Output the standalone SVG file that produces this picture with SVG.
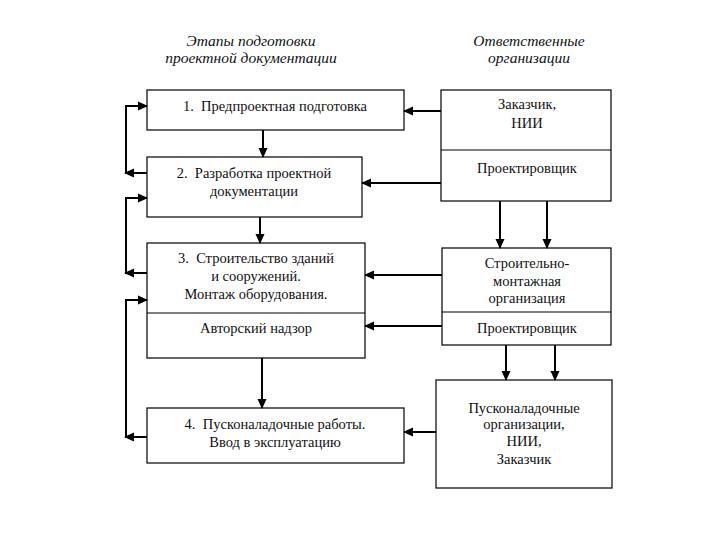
<svg xmlns="http://www.w3.org/2000/svg" width="720" height="540" viewBox="0 0 720 540">
<style>
text{font-family:"Liberation Serif","DejaVu Serif","Times New Roman",serif;font-size:14.5px;fill:#111;text-anchor:middle}
.h{font-style:italic;font-size:15.5px}
.box{fill:#fff;stroke:#000;stroke-width:1.2}
.div{stroke:#000;stroke-width:1.2}
.c{fill:none;stroke:#000;stroke-width:2}
</style>
<defs>
<marker id="a" markerWidth="10" markerHeight="10" refX="9" refY="5" orient="auto" markerUnits="userSpaceOnUse">
<path d="M0,0.5 L10,5 L0,9.5 Z" fill="#000"/>
</marker>
</defs>
<rect width="720" height="540" fill="#fff"/>
<g id="headers">
<text class="h" x="251" y="46">Этапы подготовки</text>
<text class="h" x="251" y="63">проектной документации</text>
<text class="h" x="529" y="46">Ответственные</text>
<text class="h" x="529" y="63">организации</text>
</g>
<g id="stage1">
<rect class="box" x="147" y="90" width="257" height="40"/>
<text x="275" y="111" xml:space="preserve">1.  Предпроектная подготовка</text>
</g>
<g id="stage2">
<rect class="box" x="147" y="157" width="215" height="60"/>
<text x="254" y="178" xml:space="preserve">2.  Разработка проектной</text>
<text x="254" y="196">документации</text>
</g>
<g id="stage3">
<rect class="box" x="147" y="243" width="218" height="115"/>
<line class="div" x1="147" y1="313" x2="365" y2="313"/>
<text x="256" y="263" xml:space="preserve">3.  Строительство зданий</text>
<text x="256" y="281">и сооружений.</text>
<text x="256" y="299">Монтаж оборудования.</text>
<text x="256" y="333">Авторский надзор</text>
</g>
<g id="stage4">
<rect class="box" x="147" y="408" width="257" height="55"/>
<text x="275" y="429" xml:space="preserve">4.  Пусконаладочные работы.</text>
<text x="275" y="447">Ввод в эксплуатацию</text>
</g>
<g id="orgA">
<rect class="box" x="441" y="90" width="170" height="111"/>
<line class="div" x1="441" y1="150" x2="611" y2="150"/>
<text x="527" y="109">Заказчик,</text>
<text x="527" y="128">НИИ</text>
<text x="527" y="173">Проектировщик</text>
</g>
<g id="orgB">
<rect class="box" x="442" y="248" width="169" height="97"/>
<line class="div" x1="442" y1="312" x2="611" y2="312"/>
<text x="527" y="268">Строительно-</text>
<text x="527" y="286">монтажная</text>
<text x="527" y="303">организация</text>
<text x="527" y="333">Проектировщик</text>
</g>
<g id="orgC">
<rect class="box" x="436" y="380" width="176" height="108"/>
<text x="524" y="413">Пусконаладочные</text>
<text x="524" y="429">организации,</text>
<text x="524" y="446">НИИ,</text>
<text x="524" y="464">Заказчик</text>
</g>
<g id="connectors">
<path class="c" d="M263,130 V157" marker-end="url(#a)"/>
<path class="c" d="M260,217 V243" marker-end="url(#a)"/>
<path class="c" d="M262,358 V408" marker-end="url(#a)"/>
<path class="c" d="M441,111 H404" marker-end="url(#a)"/>
<path class="c" d="M441,183 H362" marker-end="url(#a)"/>
<path class="c" d="M442,275 H365" marker-end="url(#a)"/>
<path class="c" d="M442,326 H365" marker-end="url(#a)"/>
<path class="c" d="M436,432 H404" marker-end="url(#a)"/>
<path class="c" d="M500,201 V248" marker-end="url(#a)"/>
<path class="c" d="M547,201 V248" marker-end="url(#a)"/>
<path class="c" d="M506,345 V380" marker-end="url(#a)"/>
<path class="c" d="M555,345 V380" marker-end="url(#a)"/>
<path class="c" d="M147,173 H125" marker-end="url(#a)"/>
<path class="c" d="M126,174 V106 H147" marker-end="url(#a)"/>
<path class="c" d="M147,273 H125" marker-end="url(#a)"/>
<path class="c" d="M126,274 V198 H147" marker-end="url(#a)"/>
<path class="c" d="M147,437 H125" marker-end="url(#a)"/>
<path class="c" d="M126,438 V300 H147" marker-end="url(#a)"/>
</g>
</svg>
